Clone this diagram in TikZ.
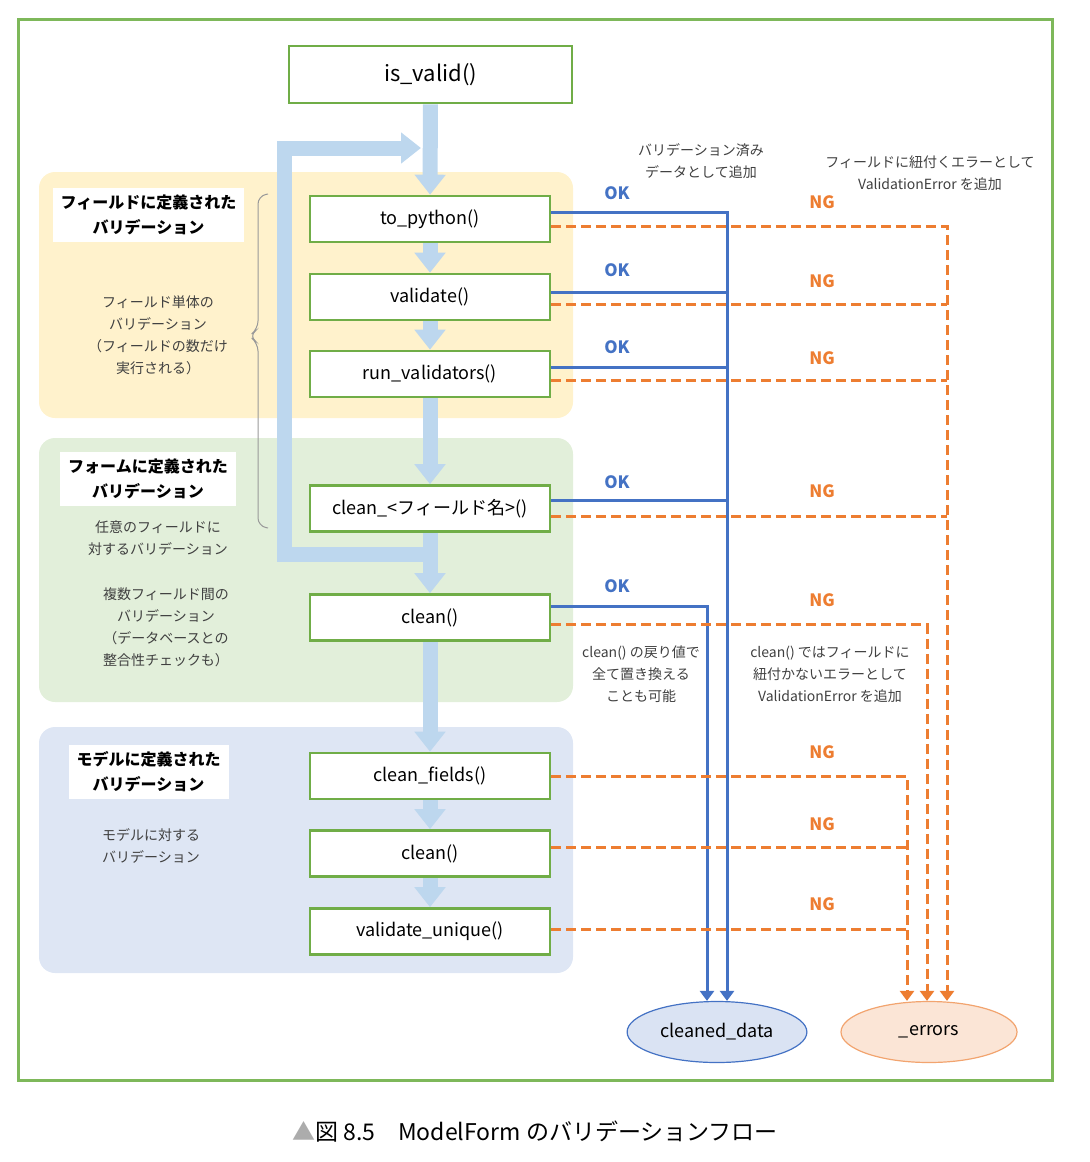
\documentclass[tikz,border=0pt]{standalone}
\usepackage{fontspec}
\setmainfont{Noto Sans CJK JP}
\usepackage{tikz}
\usetikzlibrary{positioning}
\usetikzlibrary{shapes,arrows.meta}
\definecolor{framegreen}{HTML}{7EB85A}
\definecolor{boxgreen}{HTML}{70AD47}
\definecolor{fieldzone}{HTML}{FFF2CC}
\definecolor{formzone}{HTML}{E2EFDA}
\definecolor{modelzone}{HTML}{DEE6F4}
\definecolor{flowblue}{HTML}{BDD7EE}
\definecolor{okblue}{HTML}{4472C4}
\definecolor{ngorange}{HTML}{ED7D31}
\definecolor{dataface}{HTML}{DAE3F3}
\definecolor{errface}{HTML}{FBE5D6}
\definecolor{desc}{HTML}{404040}
\tikzstyle{method} = [rectangle, draw=boxgreen, line width=1.3pt, fill=white,
                minimum width=120pt, minimum height=23pt, font=\fontsize{9pt}{11pt}\selectfont]
\tikzstyle{flow} = [draw=flowblue, line width=7.5pt, -{Triangle[length=10pt,width=15pt]}]
\tikzstyle{ok} = [draw=okblue, line width=1.5pt]
\tikzstyle{okline} = [ok, -{Triangle[length=5pt,width=7pt]}]
\tikzstyle{ng} = [draw=ngorange, line width=1.5pt, dash pattern=on 5pt off 2.5pt]
\tikzstyle{ngline} = [ng, -{Triangle[length=5pt,width=7pt]}]
\tikzstyle{oklabel} = [text=okblue, font=\bfseries\fontsize{8.5pt}{10pt}\selectfont]
\tikzstyle{nglabel} = [text=ngorange, font=\bfseries\fontsize{8.5pt}{10pt}\selectfont]
\tikzstyle{zonetitle} = [fill=white, align=center, inner xsep=4pt, minimum height=27pt,
                font=\bfseries\fontsize{8pt}{12.5pt}\selectfont]
\tikzstyle{note} = [align=center, text=desc, font=\fontsize{7pt}{11pt}\selectfont]
\tikzstyle{result} = [ellipse, line width=0.6pt, minimum width=88pt, minimum height=30.5pt,
                font=\fontsize{9pt}{11pt}\selectfont]

\begin{document}
\begin{tikzpicture}[x=0.5pt,y=-0.5pt]
            \useasboundingbox (0,0) rectangle (1090,1162);
            \fill[fieldzone, rounded corners=8pt] (39,172) rectangle (573,418);
            \fill[formzone, rounded corners=8pt] (39,438) rectangle (573,702);
            \fill[modelzone, rounded corners=8pt] (39,727) rectangle (573,973);
            \draw[framegreen, line width=1.5pt] (18,19) rectangle (1052,1080);
            \node[method, minimum width=141.5pt, minimum height=28.5pt, font=\fontsize{11pt}{13pt}\selectfont](isvalid) at (430.5,74.5){is\_valid()};
            \node[method](topython) at (430,219){to\_python()};
            \node[method](validate) at (430,297){validate()};
            \node[method](runvalidators) at (430,374){run\_validators()};
            \node[method](cleanfield) at (430,508.5){clean\_<フィールド名>()};
            \node[method](formclean) at (430,617.5){clean()};
            \node[method](cleanfields) at (430,776){clean\_fields()};
            \node[method](modelclean) at (430,853.5){clean()};
            \node[method](validateunique) at (430,931.5){validate\_unique()};
            \node[result, draw=okblue, fill=dataface](cleaned) at (717,1032){cleaned\_data};
            \node[result, draw=ngorange!70, fill=errface](errors) at (929,1032){\_errors};
            \node[zonetitle](fieldtitle) at (148.5,215){フィールドに定義された\\バリデーション};
            \node[zonetitle](formtitle) at (148,478.5){フォームに定義された\\バリデーション};
            \node[zonetitle](modeltitle) at (148.5,772){モデルに定義された\\バリデーション};
            \node[note](fielddesc) at (158,335){フィールド単体の\\バリデーション\\（フィールドの数だけ\\実行される）};
            \node[note](anydesc) at (158,538){任意のフィールドに\\対するバリデーション};
            \node[note](multidesc) at (166,627){複数フィールド間の\\バリデーション\\（データベースとの\\整合性チェックも）};
            \node[note](modeldesc) at (151,846){モデルに対する\\バリデーション};
            \node[note](okdesc) at (701,161){バリデーション済み\\データとして追加};
            \node[note](ngdesc) at (930,173){フィールドに紐付くエラーとして\\ValidationError を追加};
            \node[note](returndesc) at (641,674){clean() の戻り値で\\全て置き換える\\ことも可能};
            \node[note](nonfielddesc) at (830,674){clean() ではフィールドに\\紐付かないエラーとして\\ValidationError を追加};
            \node[oklabel](ok1) at (617,193){OK};
            \node[oklabel](ok2) at (617,270){OK};
            \node[oklabel](ok3) at (617,347){OK};
            \node[oklabel](ok4) at (617,482){OK};
            \node[oklabel](ok5) at (617,586){OK};
            \node[nglabel](ng1) at (822,202){NG};
            \node[nglabel](ng2) at (822,281){NG};
            \node[nglabel](ng3) at (822,358){NG};
            \node[nglabel](ng4) at (822,491){NG};
            \node[nglabel](ng5) at (822,600){NG};
            \node[nglabel](ng6) at (822,752){NG};
            \node[nglabel](ng7) at (822,824){NG};
            \node[nglabel](ng8) at (822,904){NG};
            \node[font=\fontsize{11.5pt}{14pt}\selectfont](caption) at (535,1132){\textcolor{gray!65}{▲}図 8.5　ModelForm のバリデーションフロー};
            % brace for the field-level part
            \draw[gray!80, line width=0.5pt, rounded corners=4pt] (268,194) -- (258,196) -- (258,329) -- (249,336) -- (258,343) -- (258,526) -- (268,528);
            % main flow
            \coordinate (loopstart) at (430,554);
            \coordinate (loopcorner) at (284,148);
            \coordinate (loopend) at (421,148);
            \path[flow] (loopstart) -| (loopcorner) -- (loopend);
            \path[flow] (isvalid) -- (topython);
            \path[flow] (topython) -- (validate);
            \path[flow] (validate) -- (runvalidators);
            \path[flow] (runvalidators) -- (cleanfield);
            \path[flow] (cleanfield) -- (formclean);
            \path[flow] (formclean) -- (cleanfields);
            \path[flow] (cleanfields) -- (modelclean);
            \path[flow] (modelclean) -- (validateunique);
            % ok
            \coordinate (okbus) at ([xshift=5pt]cleaned.north);
            \coordinate (formokbus) at ([xshift=-5pt]cleaned.north);
            \coordinate (vok) at ([yshift=2.5pt]validate.east);
            \coordinate (rok) at ([yshift=3.5pt]runvalidators.east);
            \coordinate (cok) at ([yshift=4pt]cleanfield.east);
            \path[okline] ([yshift=3.5pt]topython.east) -| (okbus);
            \path[ok] (vok) -- (vok -| okbus);
            \path[ok] (rok) -- (rok -| okbus);
            \path[ok] (cok) -- (cok -| okbus);
            \path[okline] ([yshift=5.5pt]formclean.east) -| (formokbus);
            % ng
            \coordinate (fieldngbus) at ([xshift=9pt]errors.north);
            \coordinate (formngbus) at ([xshift=-1pt]errors.north);
            \coordinate (modelngbus) at ([xshift=-11pt]errors.north);
            \coordinate (vng) at ([yshift=-3.5pt]validate.east);
            \coordinate (rng) at ([yshift=-3pt]runvalidators.east);
            \coordinate (cng) at ([yshift=-4pt]cleanfield.east);
            \coordinate (mcng) at ([yshift=3pt]modelclean.east);
            \coordinate (vung) at ([yshift=1pt]validateunique.east);
            \path[ngline] ([yshift=-3.5pt]topython.east) -| (fieldngbus);
            \path[ng] (vng) -- (vng -| fieldngbus);
            \path[ng] (rng) -- (rng -| fieldngbus);
            \path[ng] (cng) -- (cng -| fieldngbus);
            \path[ngline] ([yshift=-3.5pt]formclean.east) -| (formngbus);
            \path[ngline] (cleanfields.east) -| (modelngbus);
            \path[ng] (mcng) -- (mcng -| modelngbus);
            \path[ng] (vung) -- (vung -| modelngbus);
        \end{tikzpicture}
\end{document}
